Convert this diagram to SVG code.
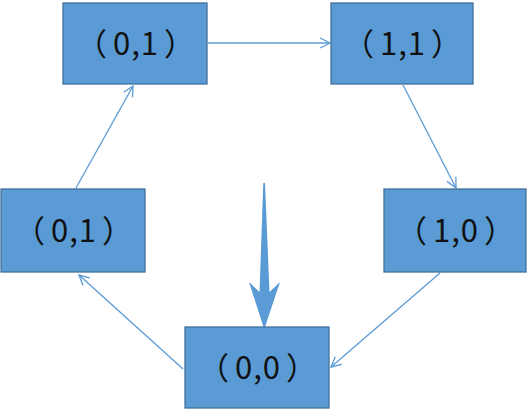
<svg xmlns="http://www.w3.org/2000/svg" width="529" height="409" viewBox="0 0 529 409">
<defs>
<style>
.box{fill:#5b9bd5;stroke:#41719c;stroke-width:1.3}
.lbl{font-family:"Noto Sans CJK SC","Microsoft YaHei",sans-serif;font-size:31px;font-weight:400;fill:#111;text-anchor:middle;letter-spacing:1px}
.con{stroke:#5b9bd5;stroke-width:1.3;fill:none}
</style>
<marker id="ah" viewBox="0 0 12 12" refX="11" refY="6" markerWidth="12" markerHeight="12" markerUnits="userSpaceOnUse" orient="auto">
<path d="M1,1 L11,6 L1,11" fill="none" stroke="#5b9bd5" stroke-width="1.3"/>
</marker>
</defs>
<rect width="529" height="409" fill="#fff"/>
<g id="connectors">
<line class="con" x1="208" y1="43" x2="330" y2="43" marker-end="url(#ah)"/>
<line class="con" x1="403" y1="85" x2="456" y2="188" marker-end="url(#ah)"/>
<line class="con" x1="440" y1="273" x2="331" y2="367" marker-end="url(#ah)"/>
<line class="con" x1="183" y1="369" x2="79" y2="275" marker-end="url(#ah)"/>
<line class="con" x1="76" y1="188" x2="133" y2="86" marker-end="url(#ah)"/>
<polygon id="bigarrow" points="263.3,183 265,183 269.5,292 280,282 265,327 263.5,327 249,282 259.5,292" fill="#5b9bd5"/>
</g>
<g id="n_tl"><rect class="box" x="63" y="3" width="144" height="81"/><text class="lbl" x="136" y="55">（<tspan dx="5">0,1</tspan><tspan dx="5">）</tspan></text></g>
<g id="n_tr"><rect class="box" x="331" y="3" width="142" height="81"/><text class="lbl" x="403" y="55">（<tspan dx="5">1,1</tspan><tspan dx="5">）</tspan></text></g>
<g id="n_l"><rect class="box" x="1" y="189" width="144" height="83"/><text class="lbl" x="74" y="242">（<tspan dx="5">0,1</tspan><tspan dx="5">）</tspan></text></g>
<g id="n_r"><rect class="box" x="384" y="189" width="142" height="83"/><text class="lbl" x="456" y="242">（<tspan dx="5">1,0</tspan><tspan dx="5">）</tspan></text></g>
<g id="n_b"><rect class="box" x="185" y="327" width="144" height="81"/><text class="lbl" x="258" y="379">（<tspan dx="5">0,0</tspan><tspan dx="5">）</tspan></text></g>
</svg>
